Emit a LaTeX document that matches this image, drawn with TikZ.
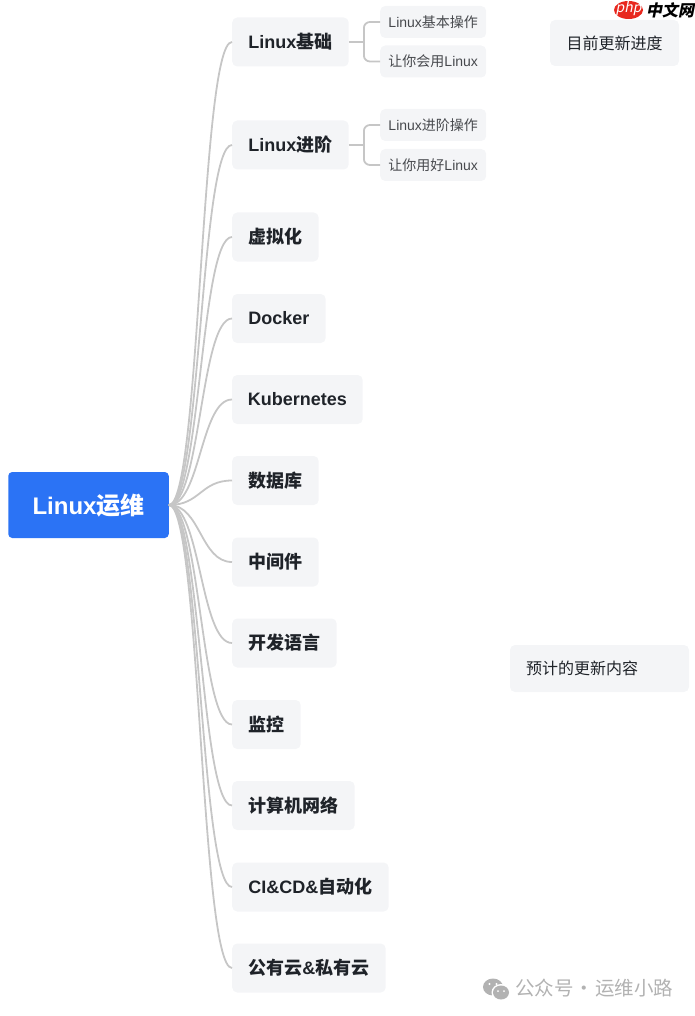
\documentclass[tikz,border=0pt]{standalone}
\usepackage{fontspec}
\setmainfont{Noto Sans CJK SC}
\newfontfamily\logofont[FakeSlant=0.2]{Noto Sans CJK SC}
\newfontfamily\latinfont{Liberation Sans}
\usetikzlibrary{positioning}
\definecolor{rootblue}{HTML}{2B73F5}
\definecolor{boxgrey}{HTML}{F4F5F7}
\definecolor{linkgrey}{HTML}{C6C6C6}
\definecolor{inkdark}{HTML}{1F2329}
\definecolor{inkleaf}{HTML}{47494D}
\definecolor{markgrey}{HTML}{B2B2B2}
\definecolor{logored}{HTML}{E8281E}
\tikzset{
  rootnode/.style={fill=rootblue,rounded corners=4,text=white,font=\bfseries\fontsize{24}{28}\selectfont,minimum width=160.5,minimum height=66,inner sep=0pt},
  branch/.style={anchor=west,fill=boxgrey,rounded corners=5,text=inkdark,font=\bfseries\fontsize{18}{22}\selectfont,minimum height=49,inner sep=0pt},
  leaf/.style={anchor=west,fill=boxgrey,rounded corners=5,text=inkleaf,font=\fontsize{14}{17}\selectfont,minimum width=106,minimum height=32,inner sep=0pt},
  status/.style={fill=boxgrey,rounded corners=5,text=inkdark,font=\fontsize{16}{20}\selectfont,inner sep=0pt},
  link/.style={draw=linkgrey,line width=1.8pt},
  fork/.style={link,rounded corners=6}
}
\begin{document}
\begin{tikzpicture}[x=1pt,y=-1pt]
  \useasboundingbox (0,0) rectangle (695,1016);
  \node[rootnode] (root) at (88.5,505) {{\latinfont Linux}运维};
  % first level
  \node[branch,minimum width=116.5] (base) at (232,42) {{\latinfont Linux}基础};
  \node[branch,minimum width=116.5] (adv) at (232,145) {{\latinfont Linux}进阶};
  \node[branch,minimum width=86.5] (virt) at (232,237) {虚拟化};
  \node[branch,minimum width=93.5] (docker) at (232,318.5) {\latinfont Docker};
  \node[branch,minimum width=130.5] (kube) at (232,399.5) {\latinfont Kubernetes};
  \node[branch,minimum width=86.5] (db) at (232,480.5) {数据库};
  \node[branch,minimum width=86.5] (mid) at (232,562) {中间件};
  \node[branch,minimum width=104.5] (lang) at (232,643) {开发语言};
  \node[branch,minimum width=68.5] (mon) at (232,724.5) {监控};
  \node[branch,minimum width=122.5] (net) at (232,805.5) {计算机网络};
  \node[branch,minimum width=156.5] (cicd) at (232,887) {{\latinfont CI\&CD\&}自动化};
  \node[branch,minimum width=153.5] (cloud) at (232,968) {公有云{\latinfont\&}私有云};
  % second level
  \node[leaf] (basea) at (380,22) {{\latinfont Linux}基本操作};
  \node[leaf] (baseb) at (380,61.5) {让你会用{\latinfont Linux}};
  \node[leaf] (adva) at (380,125) {{\latinfont Linux}进阶操作};
  \node[leaf] (advb) at (380,165) {让你用好{\latinfont Linux}};
  % notes on the right
  \node[status,minimum width=129,minimum height=46] (now) at (614.5,43) {目前更新进度};
  \node[status,minimum width=179,minimum height=47,align=left,text width=147] (plan) at (599.5,668.5) {预计的更新内容};
  % links
  \draw[link] (root.east) .. controls +(31.5,0) and +(-31.5,0) .. (base.west);
  \draw[link] (root.east) .. controls +(31.5,0) and +(-31.5,0) .. (adv.west);
  \draw[link] (root.east) .. controls +(31.5,0) and +(-31.5,0) .. (virt.west);
  \draw[link] (root.east) .. controls +(31.5,0) and +(-31.5,0) .. (docker.west);
  \draw[link] (root.east) .. controls +(31.5,0) and +(-31.5,0) .. (kube.west);
  \draw[link] (root.east) .. controls +(31.5,0) and +(-31.5,0) .. (db.west);
  \draw[link] (root.east) .. controls +(31.5,0) and +(-31.5,0) .. (mid.west);
  \draw[link] (root.east) .. controls +(31.5,0) and +(-31.5,0) .. (lang.west);
  \draw[link] (root.east) .. controls +(31.5,0) and +(-31.5,0) .. (mon.west);
  \draw[link] (root.east) .. controls +(31.5,0) and +(-31.5,0) .. (net.west);
  \draw[link] (root.east) .. controls +(31.5,0) and +(-31.5,0) .. (cicd.west);
  \draw[link] (root.east) .. controls +(31.5,0) and +(-31.5,0) .. (cloud.west);
  \coordinate[right=15pt of base.east] (basefork);
  \coordinate[right=15pt of adv.east] (advfork);
  \draw[link] (base.east) -- (basefork);
  \draw[fork] (basea.west) -| (basefork) |- (baseb.west);
  \draw[link] (adv.east) -- (advfork);
  \draw[fork] (adva.west) -| (advfork) |- (advb.west);
  % logo in the corner
  \fill[logored] (628.5,10) ellipse (14.5 and 9);
  \node[inner sep=0pt,text=white,font=\logofont\fontsize{14}{14}\selectfont] (logophp) at (628.5,9) {php};
  \node[inner sep=0pt,text=black,font=\logofont\bfseries\fontsize{16}{16}\selectfont,anchor=west] (logocn) at (646,10) {中文网};
  % watermark
  \fill[markgrey] (493,987) ellipse (10 and 8.5);
  \fill[white] (489.5,984) circle (1.2) (496.5,984) circle (1.2);
  \fill[white] (501,992.5) ellipse (9.5 and 8.5);
  \fill[markgrey] (501,992.5) ellipse (8 and 7);
  \fill[white] (498,991) circle (1) (504,991) circle (1);
  \node[anchor=west,inner sep=0pt,text=markgrey,font=\fontsize{19.5}{22}\selectfont] (mark) at (515,988) {公众号\hspace{1pt}·\hspace{1pt}运维小路};
\end{tikzpicture}
\end{document}
